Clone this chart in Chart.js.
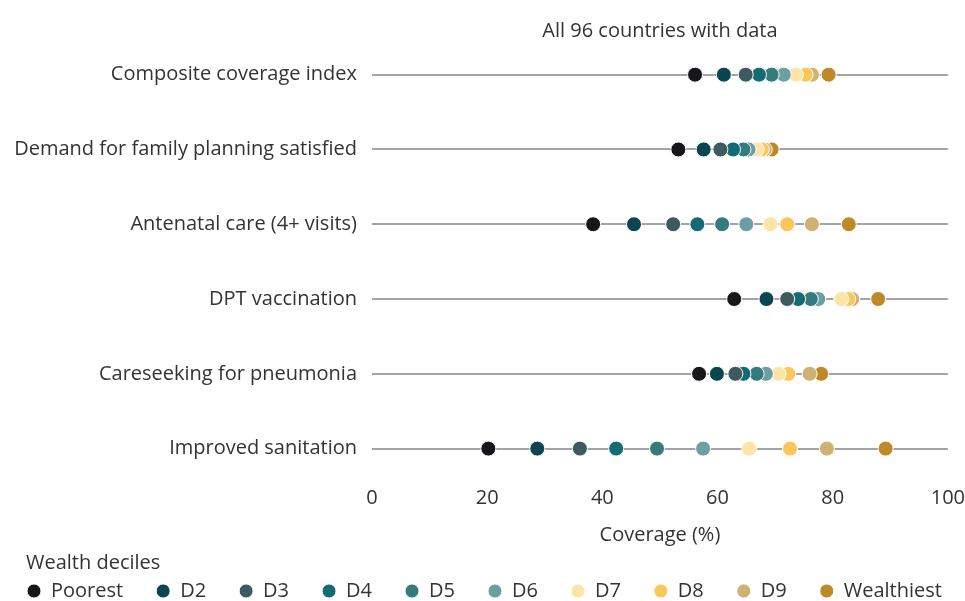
<!DOCTYPE html>
<html>
<head>
<meta charset="utf-8">
<script src="https://cdn.jsdelivr.net/npm/chart.js@4.4.1/dist/chart.umd.min.js"></script>
<style>
  html, body { margin: 0; padding: 0; background: #fff; }
  #wrap { width: 965px; height: 601px; }
</style>
</head>
<body>
<div id="wrap"><canvas id="chart" width="965" height="601"></canvas></div>
<script>
// Indicators, one row each (top to bottom)
const indicators = [
    'Composite coverage index',
    'Demand for family planning satisfied',
    'Antenatal care (4+ visits)',
    'DPT vaccination',
    'Careseeking for pneumonia',
    'Improved sanitation'
];

const deciles = ['Poorest', 'D2', 'D3', 'D4', 'D5', 'D6', 'D7', 'D8', 'D9', 'Wealthiest'];
const decileColors = ['#17171b', '#0b4550', '#3d5a60', '#136b73', '#357a7c', '#6b9fa3', '#fde5a6', '#fcc75a', '#cfb173', '#bd8a27'];

// Coverage (%) per decile, in indicator order
const poorest    = [56.1, 53.2, 38.4, 62.9, 56.8, 20.2];
const d2         = [61.1, 57.6, 45.5, 68.5, 59.9, 28.7];
const d3         = [64.9, 60.5, 52.3, 72.1, 63.1, 36.1];
const d4         = [67.2, 62.7, 56.5, 74.0, 64.5, 42.4];
const d5         = [69.4, 64.5, 60.8, 76.2, 66.8, 49.5];
const d6         = [71.5, 65.4, 65.0, 77.5, 68.4, 57.5];
const d7         = [73.6, 66.8, 69.2, 81.5, 70.6, 65.5];
const d8         = [75.3, 67.7, 72.1, 82.7, 72.3, 72.6];
const d9         = [76.4, 68.2, 76.4, 83.4, 76.0, 79.0];
const wealthiest = [79.3, 69.4, 82.8, 87.9, 78.0, 89.2];

const xTicks = [0, 20, 40, 60, 80, 100];

const series = [poorest, d2, d3, d4, d5, d6, d7, d8, d9, wealthiest];
const textColor = '#333333';
const fontFamily = 'Open Sans';
const fontSize = 20;

const datasets = series.map((vals, i) => ({
    label: deciles[i],
    data: vals.map((v, row) => ({ x: v, y: row })),
    backgroundColor: decileColors[i],
    borderColor: '#ffffff',
    borderWidth: 1,
    pointRadius: 7.5,
    pointHoverRadius: 7.5,
    pointStyle: 'circle'
}));

// legend sits indented from the left edge, while the row labels run almost to it
const legendIndent = {
    id: 'legendIndent',
    afterLayout(chart) {
        chart.legend.left += 26;
        chart.legend.right += 26;
    }
};

new Chart(document.getElementById('chart'), {
    type: 'scatter',
    data: { datasets: datasets },
    plugins: [legendIndent],
    options: {
        responsive: false,
        animation: false,
        events: [],
        // negative bottom padding pushes the legend's blank 10px tail off the canvas
        layout: { padding: { left: 0, right: 0, top: 0, bottom: -10 } },
        scales: {
            x: {
                type: 'linear',
                position: 'bottom',
                min: 0,
                max: 100,
                afterBuildTicks: axis => { axis.ticks = xTicks.map(v => ({ value: v })); },
                grid: { display: false, drawTicks: false },
                border: { display: false },
                ticks: { color: textColor, font: { family: fontFamily, size: fontSize }, padding: 0 },
                title: {
                    display: true,
                    text: 'Coverage (%)',
                    color: textColor,
                    font: { family: fontFamily, size: fontSize },
                    padding: { top: 0, bottom: 6 }
                },
                afterFit: s => { s.height = 67; }
            },
            xTop: {
                type: 'linear',
                position: 'top',
                min: 0,
                max: 100,
                grid: { display: false, drawTicks: false },
                border: { display: false },
                ticks: { display: false },
                title: {
                    display: true,
                    text: 'All 96 countries with data',
                    color: textColor,
                    font: { family: fontFamily, size: fontSize },
                    padding: { top: 19, bottom: 0 }
                },
                afterFit: s => { s.height = 44; }
            },
            y: {
                type: 'linear',
                reverse: true,
                min: -0.41,
                max: 5.5,
                afterBuildTicks: axis => { axis.ticks = indicators.map((_, i) => ({ value: i })); },
                grid: { color: '#a3a3a8', lineWidth: 2, drawTicks: false },
                border: { display: false },
                ticks: {
                    color: textColor,
                    font: { family: fontFamily, size: fontSize },
                    padding: 15,
                    callback: v => indicators[v]
                },
                afterFit: s => { s.width = 372; }
            }
        },
        plugins: {
            tooltip: { enabled: false },
            legend: {
                position: 'bottom',
                align: 'start',
                title: {
                    display: true,
                    text: 'Wealth deciles',
                    position: 'start',
                    color: textColor,
                    font: { family: fontFamily, size: fontSize },
                    padding: { top: 0, bottom: 3 }
                },
                labels: {
                    usePointStyle: true,
                    pointStyle: 'circle',
                    pointStyleWidth: 14,
                    boxHeight: 10,
                    padding: 1,
                    color: textColor,
                    font: { family: fontFamily, size: fontSize },
                    generateLabels: chart => {
                        const items = Chart.defaults.plugins.legend.labels.generateLabels(chart);
                        items.forEach((it, i) => {
                            if (i < items.length - 1) it.text = it.text + '\u2003\u2002\u200A';
                            it.lineWidth = 1;
                        });
                        return items;
                    }
                }
            }
        }
    }
});
</script>
</body>
</html>
